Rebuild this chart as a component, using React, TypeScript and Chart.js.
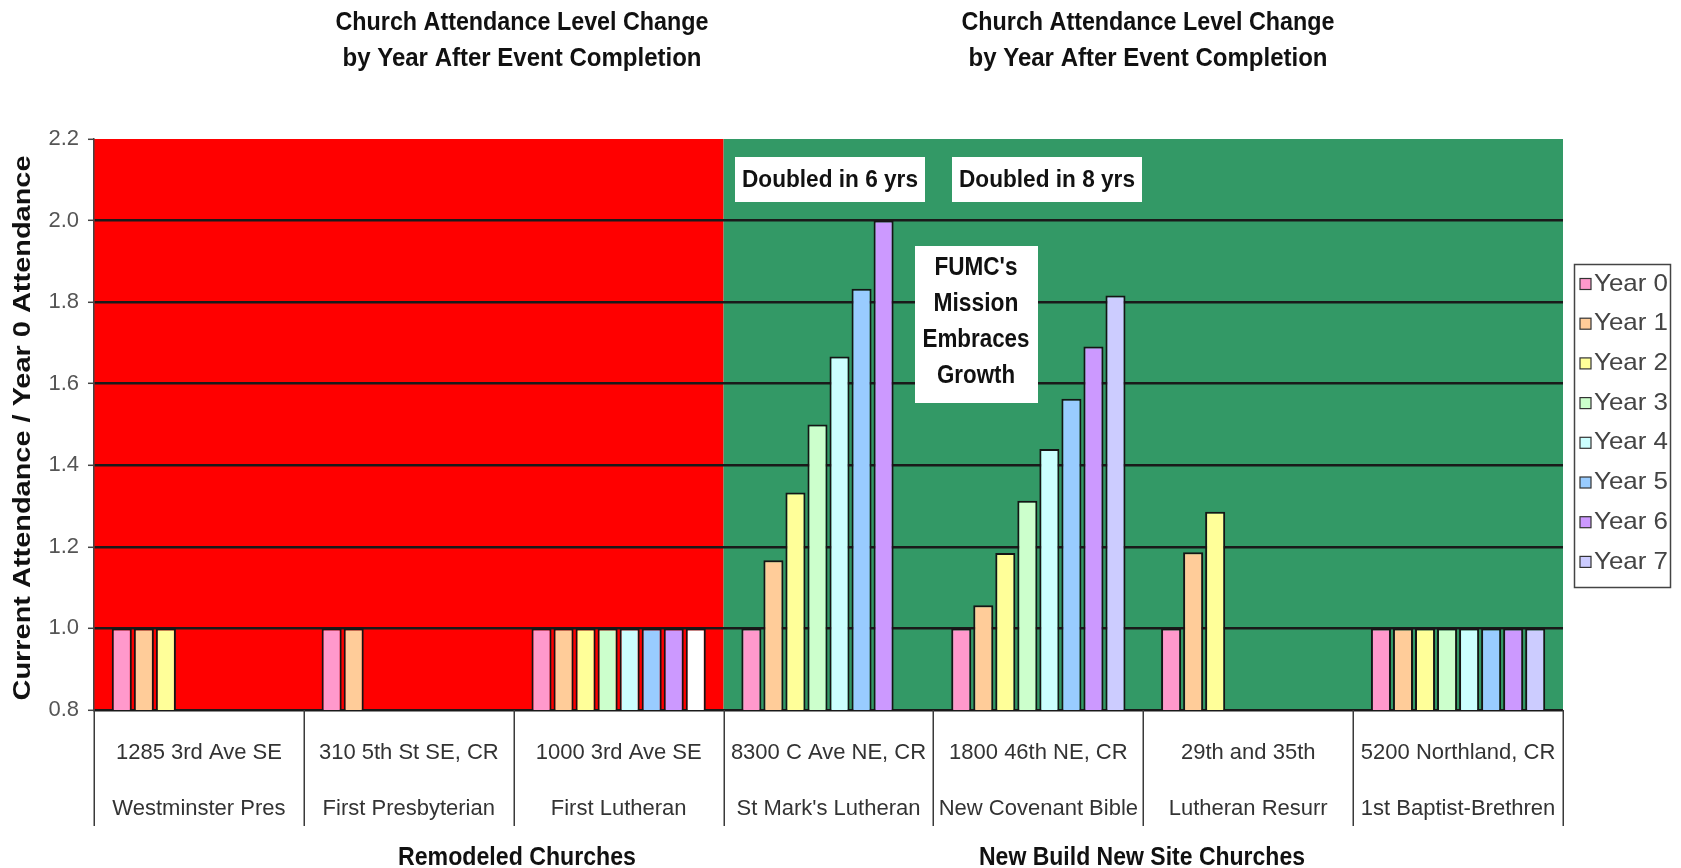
import React, { useEffect, useRef } from 'react';
import { Chart, registerables } from 'chart.js';

Chart.register(...registerables);

const FONT = '"Liberation Sans", Arial, sans-serif';

// ---------- data ----------
const addresses = ['1285 3rd Ave SE', '310 5th St SE, CR', '1000 3rd Ave SE', '8300 C Ave NE, CR', '1800 46th NE, CR', '29th and 35th', '5200 Northland, CR'];
const churchNames = ['Westminster Pres', 'First Presbyterian', 'First Lutheran', "St Mark's Lutheran", 'New Covenant Bible', 'Lutheran Resurr', '1st Baptist-Brethren'];

const seriesLabels = ['Year 0', 'Year 1', 'Year 2', 'Year 3', 'Year 4', 'Year 5', 'Year 6', 'Year 7'];
const year0 = [1, 1, 1, 1, 1, 1, 1];
const year1 = [1, 1, 1, 1.167, 1.057, 1.187, 1];
const year2 = [1, null, 1, 1.333, 1.185, 1.286, 1];
const year3 = [null, null, 1, 1.5, 1.313, null, 1];
const year4 = [null, null, 1, 1.667, 1.44, null, 1];
const year5 = [null, null, 1, 1.833, 1.563, null, 1];
const year6 = [null, null, 1, 2.0, 1.691, null, 1];
const year7 = [null, null, 1, null, 1.816, null, 1];
const seriesValues = [year0, year1, year2, year3, year4, year5, year6, year7];

const seriesColors = ['#ff99cc', '#ffcc99', '#ffff99', '#ccffcc', '#ccffff', '#99ccff', '#cc99ff', '#ccccff'];
const year7BarColors = ['#ccccff', '#ccccff', '#ffffff', '#ccccff', '#ccccff', '#ccccff', '#ccccff'];

const yMin = 0.8;
const yMax = 2.2;
const yStep = 0.2;

const groupLabels = ['Remodeled Churches', 'New Build New Site Churches'];
const groupSizes = [3, 4];
const groupFills = ['#ff0000', '#339966'];

const chartTitle = ['Church Attendance Level Change', 'by Year After Event Completion'];
const yAxisTitle = 'Current Attendance / Year 0 Attendance';
const doubledNotes = ['Doubled in 6 yrs', 'Doubled in 8 yrs'];
const missionNote = ["FUMC's", 'Mission', 'Embraces', 'Growth'];

// ---------- helpers ----------
function fitText(ctx: CanvasRenderingContext2D, text: string, x: number, y: number, size: number, weight: string, color: string, width: number | null, align: CanvasTextAlign = 'center', rotate = 0) {
  ctx.save();
  ctx.font = `${weight} ${size}px ${FONT}`;
  const w = ctx.measureText(text).width;
  const sx = width ? width / w : 1;
  ctx.translate(x, y);
  if (rotate) ctx.rotate(rotate);
  ctx.scale(sx, 1);
  ctx.textAlign = align;
  ctx.textBaseline = 'middle';
  ctx.fillStyle = color;
  ctx.fillText(text, 0, 0);
  ctx.restore();
}

const decor = {
  id: 'decor',
  beforeDraw(chart: any) {
    const { ctx, chartArea: a, scales } = chart;
    const x = scales.x;
    let start = 0;
    groupSizes.forEach((n, g) => {
      const x0 = x.getPixelForValue(start - 0.5);
      const x1 = x.getPixelForValue(start + n - 0.5);
      ctx.save();
      ctx.fillStyle = groupFills[g];
      ctx.fillRect(x0, a.top, x1 - x0, a.bottom - a.top);
      ctx.restore();
      start += n;
    });
  },
  afterDraw(chart: any) {
    const { ctx, chartArea: a, scales } = chart;
    const x = scales.x;
    const n = addresses.length;

    // category dividers below the axis
    ctx.save();
    ctx.strokeStyle = '#3a3a3a';
    ctx.lineWidth = 1.5;
    for (let i = 0; i <= n; i++) {
      const px = Math.round(x.getPixelForValue(i - 0.5)) + 0.25;
      ctx.beginPath();
      ctx.moveTo(px, a.bottom);
      ctx.lineTo(px, 826);
      ctx.stroke();
    }
    ctx.restore();

    // titles
    [522, 1148].forEach((cx) => {
      fitText(ctx, chartTitle[0], cx, 23, 25, 'bold', '#111', 373);
      fitText(ctx, chartTitle[1], cx, 59, 25, 'bold', '#111', 359);
    });

    // group labels
    fitText(ctx, groupLabels[0], 517, 858, 25, 'bold', '#111', 238);
    fitText(ctx, groupLabels[1], 1142, 858, 25, 'bold', '#111', 326);

    // y axis title
    fitText(ctx, yAxisTitle, 23, 428, 24, 'bold', '#111', 545, 'center', -Math.PI / 2);

    // annotation boxes
    ctx.save();
    ctx.fillStyle = '#ffffff';
    ctx.fillRect(735, 157, 190, 45);
    ctx.fillRect(952, 157, 190, 45);
    ctx.fillRect(915, 246, 123, 157);
    ctx.restore();
    fitText(ctx, doubledNotes[0], 830, 180, 24, 'bold', '#111', 176);
    fitText(ctx, doubledNotes[1], 1047, 180, 24, 'bold', '#111', 176);
    const mw = [83, 85, 107, 78];
    missionNote.forEach((t, i) => fitText(ctx, t, 976, 268 + i * 36, 25, 'bold', '#111', mw[i]));

    // legend
    ctx.save();
    ctx.fillStyle = '#ffffff';
    ctx.fillRect(1574, 264, 97, 324);
    ctx.strokeStyle = '#444';
    ctx.lineWidth = 1.5;
    ctx.strokeRect(1574.5, 264.5, 96, 323);
    ctx.restore();
    chart.data.datasets.forEach((ds: any, i: number) => {
      const cy = 284 + i * 39.7;
      ctx.save();
      ctx.fillStyle = seriesColors[i];
      ctx.fillRect(1580, cy - 5.5, 11, 11);
      ctx.strokeStyle = '#333';
      ctx.lineWidth = 1.2;
      ctx.strokeRect(1580, cy - 5.5, 11, 11);
      ctx.restore();
      fitText(ctx, ds.label, 1594, cy, 24, 'normal', '#444', 74, 'left');
    });
  },
};

export default function App() {
  const ref = useRef<HTMLCanvasElement | null>(null);

  useEffect(() => {
    if (!ref.current) return;
    const chart = new Chart(ref.current, {
      type: 'bar',
      data: {
        labels: addresses.map((ad, i) => [ad, churchNames[i]]),
        datasets: seriesLabels.map((label, i) => ({
          label,
          data: seriesValues[i] as any,
          backgroundColor: i === 7 ? year7BarColors : seriesColors[i],
          borderColor: '#151515',
          borderWidth: 2,
          borderSkipped: false,
          categoryPercentage: 0.84,
          barPercentage: 0.91,
        })),
      },
      options: {
        responsive: false,
        animation: false,
        devicePixelRatio: 1,
        layout: { padding: { left: 0, top: 139, right: 118, bottom: 0 } },
        plugins: {
          legend: { display: false },
          title: { display: false },
          tooltip: { enabled: false },
        },
        scales: {
          x: {
            grid: { display: false },
            border: { display: false },
            ticks: {
              padding: 7,
              color: '#333',
              autoSkip: false,
              maxRotation: 0,
              font: { size: 22, family: FONT, lineHeight: 56 / 22 },
            },
            afterFit(s: any) {
              s.height = 158;
            },
          },
          y: {
            min: yMin,
            max: yMax,
            ticks: {
              stepSize: yStep,
              padding: 9,
              color: '#555',
              font: { size: 22, family: FONT },
              callback: (v: any) => Number(v).toFixed(1),
            },
            grid: {
              color: (c: any) => (c.tick && c.tick.value > yMax - 0.01 ? 'rgba(0,0,0,0)' : '#1a1a1a'),
              lineWidth: 2.6,
              tickColor: '#444',
              tickLength: 6,
              tickWidth: 1.5,
            },
            border: { display: true, color: '#444', width: 1.5 },
            afterFit(s: any) {
              s.width = 94;
            },
          },
        },
      },
      plugins: [decor],
    });
    return () => chart.destroy();
  }, []);

  return (
    <div style={{ position: 'fixed', left: 0, top: 0, width: 1681, height: 868, background: '#ffffff' }}>
      <canvas ref={ref} width={1681} height={868} style={{ display: 'block' }} />
    </div>
  );
}
